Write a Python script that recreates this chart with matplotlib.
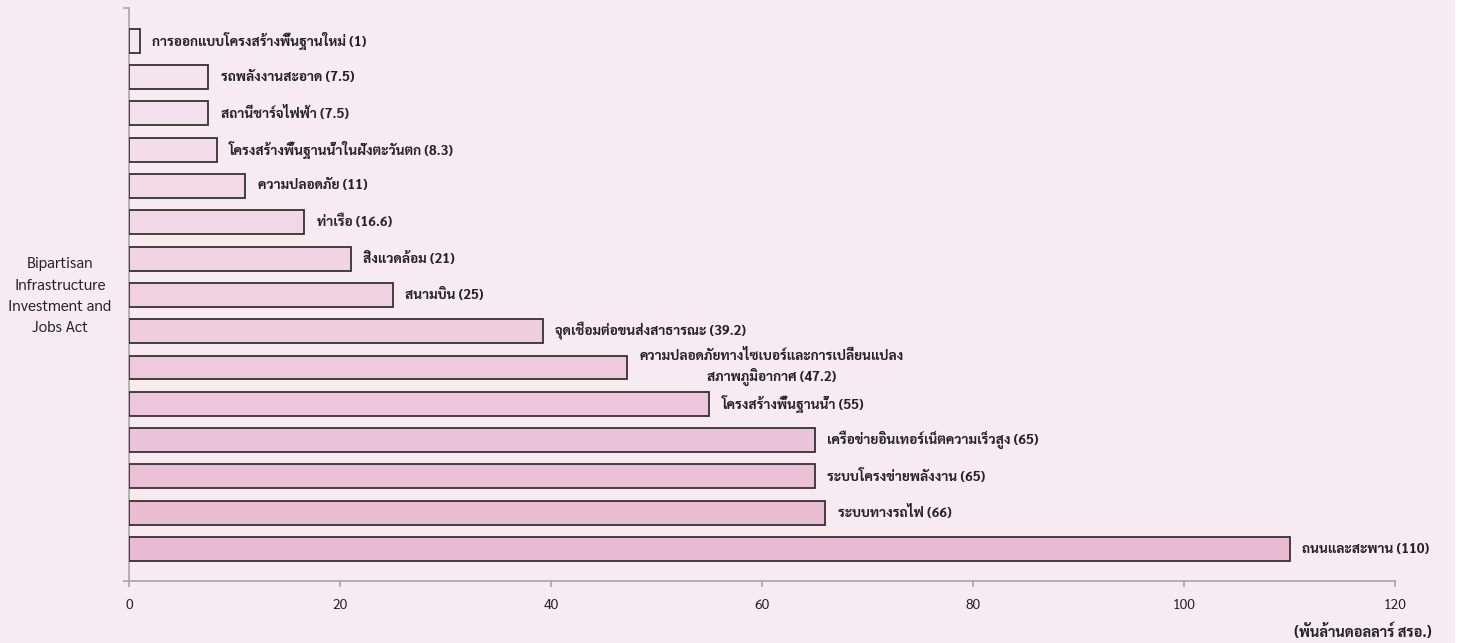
import numpy as np
import matplotlib
matplotlib.use('Agg')
import matplotlib.pyplot as plt
from matplotlib import font_manager
from matplotlib.ft2font import FT2Font
from matplotlib.patches import Rectangle
import matplotlib.patheffects as pe
import matplotlib.colors as mcolors

# data
category = 'Bipartisan\nInfrastructure\nInvestment and\nJobs Act'
items = ['การออกแบบโครงสร้างพื้นฐานใหม่',
         'รถพลังงานสะอาด',
         'สถานีชาร์จไฟฟ้า',
         'โครงสร้างพื้นฐานน้ำในฝั่งตะวันตก',
         'ความปลอดภัย',
         'ท่าเรือ',
         'สิ่งแวดล้อม',
         'สนามบิน',
         'จุดเชื่อมต่อขนส่งสาธารณะ',
         'ความปลอดภัยทางไซเบอร์และการเปลี่ยนแปลง\nสภาพภูมิอากาศ',
         'โครงสร้างพื้นฐานน้ำ',
         'เครือข่ายอินเทอร์เน็ตความเร็วสูง',
         'ระบบโครงข่ายพลังงาน',
         'ระบบทางรถไฟ',
         'ถนนและสะพาน']
values = [1, 7.5, 7.5, 8.3, 11, 16.6, 21, 25, 39.2, 47.2, 55, 65, 65, 66, 110]
value_txt = ['1', '7.5', '7.5', '8.3', '11', '16.6', '21', '25', '39.2',
             '47.2', '55', '65', '65', '66', '110']
xticks = [0, 20, 40, 60, 80, 100, 120]
unit = '(พันล้านดอลลาร์ สรอ.)'


# หา font ที่มีอักษรไทย (และดูว่ามีตัวหนาหรือไม่)
def find_thai_font():
    found = {}
    for f in font_manager.fontManager.ttflist:
        try:
            cmap = FT2Font(f.fname).get_charmap()
        except Exception:
            continue
        if 0x0E01 in cmap:
            w = f.weight if isinstance(f.weight, int) else 400
            found.setdefault(f.name, []).append(w)
    if not found:
        return None, False
    prefs = ['Tahoma', 'Noto Sans Thai', 'Noto Sans Thai UI', 'Sarabun',
             'Loma', 'Garuda', 'Kinnari']
    names = [p for p in prefs if p in found] + sorted(found)
    # ถ้ามีตัวหนาให้ใช้ก่อน
    for nm in names:
        if max(found[nm]) >= 600:
            return nm, True
    return names[0], False


thai, has_bold = find_thai_font()
fams = ([thai] if thai else []) + ['DejaVu Sans']
plt.rcParams['font.family'] = fams

# ถ้าไม่มีตัวหนา ใช้เส้นขอบทำให้ดูหนา
bold_fx = [] if has_bold else [pe.withStroke(linewidth=0.7, foreground='#222222')]

bg = '#F7EAF1'
grey = '#A6A6A6'

fig = plt.figure(figsize=(14.63, 6.43), dpi=100, facecolor='white')
fig.patches.append(Rectangle((0, 0), 1455 / 1463, 1, transform=fig.transFigure,
                             facecolor=bg, edgecolor='none', zorder=-10))
ax = fig.add_axes([129 / 1463, 62 / 643, 1266 / 1463, 573 / 643])
ax.set_facecolor(bg)

n = len(values)
c0 = np.array(mcolors.to_rgb('#F7E7EF'))
c1 = np.array(mcolors.to_rgb('#E9BAD0'))
colors = [c0 + (c1 - c0) * t for t in np.linspace(0, 1, n)]

y = np.arange(n)
ax.barh(y, values, height=0.66, color=colors, edgecolor='#333333',
        linewidth=1.3, zorder=3)

for yi, v, name, vt in zip(y, values, items, value_txt):
    ax.annotate(f'{name} ({vt})', xy=(v, yi), xytext=(9, 0),
                textcoords='offset points', ha='left', va='center',
                multialignment='center', fontsize=9.8, fontweight='bold',
                color='#222222', linespacing=1.4, path_effects=bold_fx)

ax.set_xlim(0, 120)
ax.set_ylim(n - 1 + 0.88, -0.9)
ax.set_xticks(xticks)
ax.set_xticklabels([str(t) for t in xticks], fontsize=10, color='#222222')
ax.set_yticks([n - 1 + 0.88, -0.9])
ax.set_yticklabels([])

for s in ['top', 'right']:
    ax.spines[s].set_visible(False)
for s in ['left', 'bottom']:
    ax.spines[s].set_color(grey)
    ax.spines[s].set_linewidth(1.2)
ax.tick_params(axis='x', direction='out', length=4, width=1.2, color=grey, pad=9)
ax.tick_params(axis='y', direction='out', length=4, width=1.2, color=grey)

ax.text(-0.0545, 0.497, category, transform=ax.transAxes, ha='center',
        va='center', fontsize=11, color='#222222', linespacing=1.65)

fig.text(1432 / 1463, 1 - 632 / 643, unit, ha='right', va='center',
         fontsize=10.5, fontweight='bold', color='#222222', path_effects=bold_fx)

fig.savefig('out.png', dpi=100, facecolor=fig.get_facecolor())
